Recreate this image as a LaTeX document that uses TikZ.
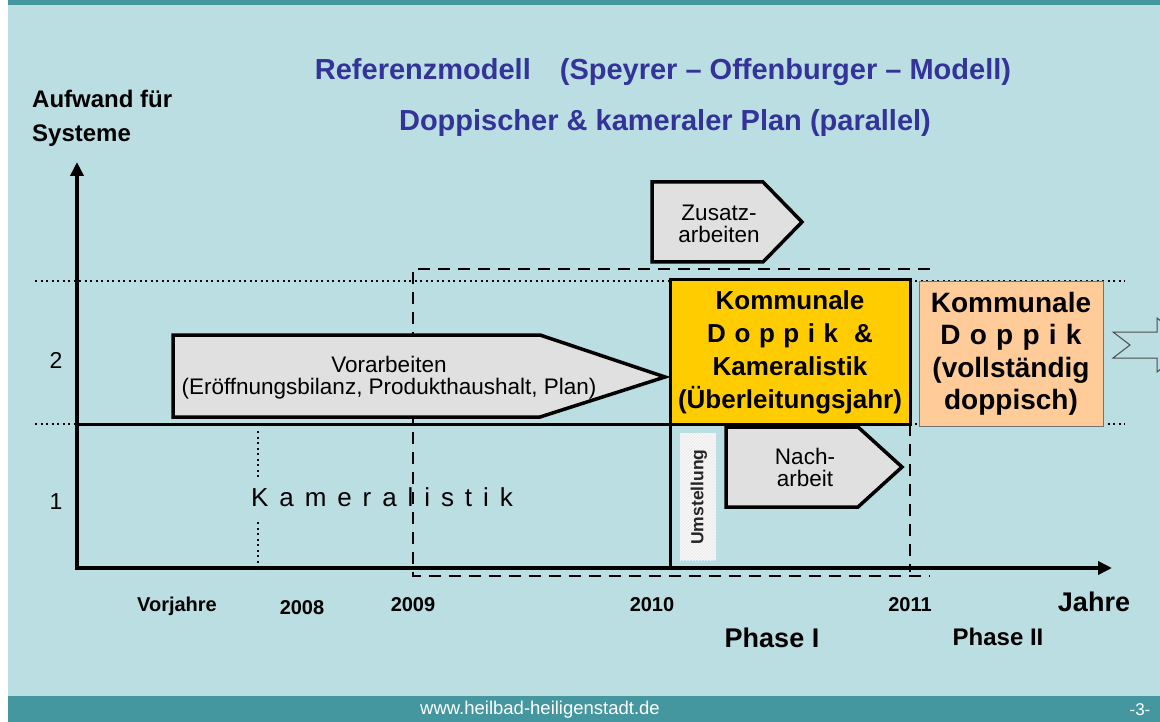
\documentclass[tikz,border=0pt]{standalone}
\usepackage{fontspec}
\setmainfont{Liberation Sans}
\usepackage{tikz}
\usetikzlibrary{positioning, arrows.meta, patterns}

\definecolor{hgblau}{RGB}{186,222,225}
\definecolor{balken}{RGB}{69,151,159}
\definecolor{titelblau}{RGB}{51,51,153}
\definecolor{gold}{RGB}{255,204,0}
\definecolor{pfirsich}{RGB}{255,204,153}
\definecolor{pfeilgrau}{RGB}{224,224,224}

\begin{document}
\begin{tikzpicture}[x=1pt, y=-1pt,
    txt/.style={inner sep=0pt, align=center},
    titel/.style={txt, font=\fontsize{29}{34}\selectfont\bfseries, text=titelblau},
    mittel/.style={txt, font=\fontsize{22.5}{22}\selectfont},
    jahr/.style={txt, font=\fontsize{20}{24}\selectfont\bfseries},
    punktlinie/.style={line width=2pt, dash pattern=on 2pt off 3.5pt},
    strichlinie/.style={line width=2.5pt, dash pattern=on 12pt off 8pt},
    pfeil/.style={draw, line width=3.5pt, fill=pfeilgrau, line join=miter},
    achse/.style={line width=3.5pt, line join=miter,
        arrows={Triangle[length=14pt,width=13pt]-Triangle[length=14pt,width=13pt]}}
  ]
        \useasboundingbox (0,0) rectangle (1160,722);
        \fill[white] (0,0) rectangle (1160,722);
        \fill[hgblau] (8,0) rectangle (1160,696);
        \fill[balken] (8,0) rectangle (1160,5);
        \fill[balken] (8,696) rectangle (1160,722);

        % Ueberschrift
        \node[titel] (titel) at (663,72) {Referenzmodell\quad(Speyrer – Offenburger – Modell)};
        \node[titel] (untertitel) at (665,123) {Doppischer \& kameraler Plan (parallel)};
        \node[txt, anchor=west, align=left, font=\fontsize{24}{34}\selectfont\bfseries] (aufwand) at (32,118) {Aufwand für\\Systeme};

        % Stufen
        \draw[punktlinie] (35,281) -- (1125,281);
        \draw[punktlinie] (35,424) -- (1125,424);
        \node[txt, font=\fontsize{23}{23}\selectfont] (stufe2) at (56,360) {2};
        \node[txt, font=\fontsize{23}{23}\selectfont] (stufe1) at (56,502) {1};

        % Phase I
        \draw[strichlinie] (930,269) -- (413,269) -- (413,576) -- (930,576);
        \draw[strichlinie] (910,424) -- (910,572);

        \node[txt, font=\fontsize{26}{26}\selectfont\addfontfeature{LetterSpace=42}] (kamera) at (382,497) {Kameralistik};
        \draw[punktlinie] (258,431) -- (258,480);
        \draw[punktlinie] (258,522) -- (258,570);

        \draw[pfeil] (173,335) -- (540,335) -- (665,377) -- (540,417) -- (173,417) -- cycle;
        \node[mittel] (vorarbeiten) at (389,378) {Vorarbeiten\\(Eröffnungsbilanz, Produkthaushalt, Plan)};

        \draw[line width=3pt] (77,424) -- (670,424);
        \node[draw, line width=3pt, fill=gold, minimum width=240pt, minimum height=144pt,
              inner sep=0pt, outer sep=0pt, align=center, font=\fontsize{26}{33}\selectfont\bfseries]
              (ueberleitung) at (790,352)
              {Kommunale\\{\addfontfeature{LetterSpace=33}Doppik \&}\\Kameralistik\\(Überleitungsjahr)};
        \draw[line width=3pt] (ueberleitung.south west) -- (670,568);

        \node[draw=black!55, line width=1pt, fill=pfirsich, minimum width=184pt, minimum height=144pt,
              inner sep=0pt, outer sep=0pt, align=center, font=\fontsize{28}{32.5}\selectfont\bfseries]
              (doppisch) at (1011,354)
              {Kommunale\\{\addfontfeature{LetterSpace=33}Doppik}\\(vollständig\\doppisch)};

        \draw[black!70, line width=1pt] (1166,325) -- (1157,318) -- (1157,332) -- (1113,332) -- (1130,345)
              -- (1113,358) -- (1157,358) -- (1157,372) -- (1166,365);

        \fill[gray!15] (680,433) rectangle (716,560);
        \fill[pattern=north east lines, pattern color=white] (680,433) rectangle (716,560);
        \node[txt, rotate=90, font=\fontsize{17.5}{17.5}\selectfont\bfseries, text=black!85] (umstellung) at (699,497) {Umstellung};

        \draw[pfeil] (726,427) -- (858,427) -- (902,467) -- (858,507) -- (726,507) -- cycle;
        \node[mittel] (nacharbeit) at (805,467) {Nach-\\arbeit};

        \draw[pfeil] (652,182) -- (763,182) -- (802,222) -- (763,262) -- (652,262) -- cycle;
        \node[mittel] (zusatz) at (719,224) {Zusatz-\\arbeiten};

        % Achsen
        \draw[achse] (77,162) -- (77,568) -- (1112,568);

        \foreach \x/\y/\t in {177/606/Vorjahre, 302/608/2008, 413/605/2009, 652/605/2010, 910/605/2011}
        \node[jahr] (jahr-\t) at (\x,\y) {\t};
        \node[txt, font=\fontsize{27}{27}\selectfont\bfseries] (jahre) at (1094,602) {Jahre};
        \node[txt, font=\fontsize{27}{27}\selectfont\bfseries] (phase1) at (772,638) {Phase I};
        \node[txt, font=\fontsize{24}{24}\selectfont\bfseries] (phase2) at (998,637) {Phase II};

        % Fusszeile
        \node[txt, text=white, font=\fontsize{18.5}{18.5}\selectfont] (web) at (540,710) {www.heilbad-heiligenstadt.de};
        \node[txt, text=white, font=\fontsize{17}{17}\selectfont] (seite) at (1140,710) {-3-};
    \end{tikzpicture}
\end{document}
